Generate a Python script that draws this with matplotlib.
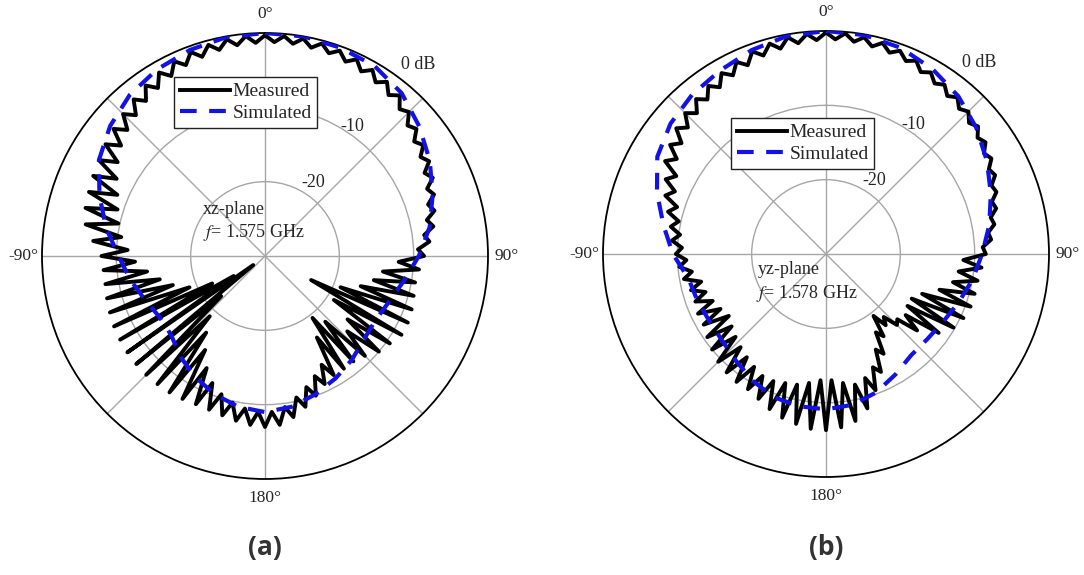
import numpy as np
import matplotlib.pyplot as plt

plt.rcParams['font.family'] = ['Liberation Serif', 'DejaVu Serif']
plt.rcParams['mathtext.fontset'] = 'stix'

# angles in degrees, clockwise from 0 (top of the plot)
theta_meas = np.arange(0, 360, 2.5)
theta_sim = np.arange(0, 360, 10)

# (a) xz-plane, f = 1.575 GHz -- measured (dB), one value every 2.5 deg
meas_a = [
    -0.3, -1.2, -0.3, -1.2, -0.3, -1.3, -0.4, -1.4, -0.6, -1.7, -0.8, -2.0,   # 0..27.5
    -1.1, -2.3, -1.4, -2.7, -1.8, -3.2, -2.6, -4.0, -3.4, -4.7, -4.0, -5.2,   # 30..57.5
    -4.5, -5.8, -5.1, -6.4, -5.8, -7.0, -6.4, -7.7, -7.0, -8.4, -7.8, -9.4,   # 60..87.5
    -8.6, -12.0, -9.2, -14.0, -9.5, -15.0, -9.3, -16.5, -9.0, -19.0, -8.8, -23.0,   # 90..117.5
    -8.8, -19.0, -9.5, -16.0, -10.0, -15.0, -11.0, -18.0, -11.5, -19.5, -11.5, -17.0,   # 120..147.5
    -11.5, -13.5, -11.0, -12.5, -10.0, -11.5, -9.0, -10.5, -8.0, -9.5, -7.2, -9.0,   # 150..177.5
    -7.0, -9.0, -7.2, -9.3, -7.5, -9.8, -7.8, -10.5, -8.0, -11.5, -8.0, -13.0,   # 180..207.5
    -7.8, -15.0, -7.6, -17.0, -7.5, -19.0, -7.4, -22.0, -7.4, -28.0, -7.4, -25.0,   # 210..237.5
    -7.5, -22.0, -7.6, -19.0, -7.8, -17.0, -8.0, -15.5, -8.2, -14.0, -8.2, -12.5,   # 240..267.5
    -8.0, -11.5, -6.8, -10.5, -5.5, -9.8, -5.0, -9.2, -4.8, -8.5, -4.5, -7.5,   # 270..297.5
    -4.2, -6.5, -3.8, -5.6, -3.4, -4.9, -3.0, -4.3, -2.5, -3.7, -2.0, -3.2,   # 300..327.5
    -1.5, -2.7, -1.1, -2.2, -0.8, -1.9, -0.6, -1.6, -0.4, -1.4, -0.3, -1.3,   # 330..357.5
]
# (a) simulated (dB), one value every 10 deg
sim_a = [
    0.0, 0.0, -0.2, -0.5, -1.4, -2.9, -4.4, -6.0, -7.5, -9.3, -11.0, -12.2,
    -12.8, -12.6, -11.8, -11.0, -10.2, -9.4, -9.0, -9.4, -10.2, -11.2, -12.3, -13.5,
    -13.6, -12.8, -11.6, -10.3, -8.3, -6.3, -4.2, -2.8, -1.7, -1.0, -0.5, -0.1,
]

# (b) yz-plane, f = 1.578 GHz -- measured (dB), one value every 2.5 deg
meas_b = [
    -0.2, -1.1, -0.2, -1.2, -0.4, -1.4, -0.6, -1.6, -0.9, -1.9, -1.3, -2.4,   # 0..27.5
    -1.8, -2.8, -2.2, -3.2, -2.5, -3.5, -2.9, -3.9, -3.3, -4.3, -3.8, -4.8,   # 30..57.5
    -4.3, -5.3, -4.9, -5.9, -5.6, -6.6, -6.3, -7.3, -7.0, -8.0, -7.7, -8.9,   # 60..87.5
    -8.5, -11.5, -9.0, -12.0, -9.3, -12.5, -9.3, -14.0, -9.3, -16.0, -9.6, -17.0,   # 90..117.5
    -10.2, -17.0, -11.5, -16.5, -14.0, -17.0, -16.5, -18.5, -17.5, -19.5, -16.5, -17.5,   # 120..147.5
    -14.5, -15.5, -12.5, -13.5, -10.5, -12.5, -8.5, -12.0, -7.2, -12.5, -6.6, -13.0,   # 150..177.5
    -6.3, -13.0, -6.4, -12.5, -6.8, -12.0, -7.2, -11.8, -7.8, -11.5, -8.5, -11.5,   # 180..207.5
    -9.0, -12.0, -9.0, -12.5, -9.2, -13.0, -9.5, -13.5, -10.0, -14.0, -10.5, -14.5,   # 210..237.5
    -11.0, -14.0, -11.0, -13.5, -11.3, -13.0, -11.2, -12.8, -10.6, -11.8, -10.2, -11.2,   # 240..267.5
    -9.8, -10.6, -9.2, -10.2, -8.8, -9.7, -8.0, -9.0, -7.0, -8.0, -6.2, -7.3,   # 270..297.5
    -5.0, -6.2, -4.4, -5.5, -3.7, -4.8, -3.2, -4.3, -2.8, -3.8, -2.4, -3.4,   # 300..327.5
    -1.9, -2.9, -1.5, -2.5, -1.0, -2.0, -0.7, -1.7, -0.4, -1.4, -0.3, -1.2,   # 330..357.5
]
# (b) simulated (dB), one value every 10 deg
sim_b = [
    0.0, -0.1, -0.5, -1.3, -2.3, -3.6, -5.0, -6.4, -7.7, -9.0, -10.0, -11.0,
    -11.8, -12.2, -12.2, -11.3, -10.2, -9.4, -9.1, -9.2, -9.5, -10.3, -11.2, -11.8,
    -11.9, -11.6, -11.2, -9.4, -7.8, -5.8, -3.8, -2.7, -2.0, -1.5, -0.8, -0.2,
]

angle_labels = ['0°', '', '90°', '', '180°', '', '-90°', '']
ring_labels = [(38.5, 3.0, '0 dB'), (34, -9.0, '-10'), (33, -18.2, '-20')]

W, H = 1084, 575
TXT = '#262626'


def closed(theta, vals):
    th = np.deg2rad(np.append(theta, 360))
    return th, np.append(vals, vals[0])


def draw_pattern(ax, meas, sim, legend_px):
    ax.set_theta_zero_location('N')
    ax.set_theta_direction(-1)
    ax.set_ylim(-30, 0)
    ax.set_yticks([-20, -10])
    ax.set_yticklabels([])
    ax.set_thetagrids(np.arange(0, 360, 45), angle_labels)
    ax.grid(color='#a6a6a6', lw=1.0)
    ax.spines['polar'].set_color('black')
    ax.spines['polar'].set_linewidth(1.3)
    ax.tick_params(axis='x', pad=3, labelsize=12.5, labelcolor=TXT)

    th, r = closed(theta_meas, meas)
    ax.plot(th, r, color='black', lw=2.8, label='Measured', zorder=3)
    th, r = closed(theta_sim, sim)
    ax.plot(th, r, color='#1212e6', lw=3, dashes=(4, 3), label='Simulated', zorder=4)

    for ang, rr, txt in ring_labels:
        ax.text(np.deg2rad(ang), rr, txt, ha='center', va='center',
                fontsize=13, color=TXT)

    leg = ax.legend(loc='upper left',
                    bbox_to_anchor=(legend_px[0] / W, 1 - legend_px[1] / H),
                    bbox_transform=fig.transFigure, borderaxespad=0,
                    fontsize=14, handlelength=2.6, handletextpad=0.1,
                    borderpad=0.3, labelspacing=0.2, fancybox=False,
                    framealpha=1, edgecolor='#222222')
    leg.get_frame().set_linewidth(1.0)
    leg.set_zorder(10)
    for t in leg.get_texts():
        t.set_color(TXT)


fig = plt.figure(figsize=(W / 100, H / 100), dpi=100)

R = 223
ax_a = fig.add_axes([(265 - R) / W, 1 - (256 + R) / H, 2 * R / W, 2 * R / H],
                    projection='polar')
ax_b = fig.add_axes([(826 - R) / W, 1 - (254 + R) / H, 2 * R / W, 2 * R / H],
                    projection='polar')

draw_pattern(ax_a, meas_a, sim_a, (174, 77))
draw_pattern(ax_b, meas_b, sim_b, (731, 118))

# plane / frequency notes
fig.text(203 / W, 1 - 209 / H, 'xz-plane', fontsize=13, color=TXT, va='center')
fig.text(203 / W, 1 - 233 / H, '$f$= 1.575 GHz', fontsize=13, color=TXT, va='center')
fig.text(758 / W, 1 - 270 / H, 'yz-plane', fontsize=13, color=TXT, va='center')
fig.text(756 / W, 1 - 293 / H, '$f$= 1.578 GHz', fontsize=13, color=TXT, va='center')

# sub-figure captions
for x, lab in [(265, '(a)'), (826, '(b)')]:
    fig.text(x / W, 1 - 548 / H, lab, ha='center', va='center', fontsize=19,
             fontweight='bold', family='Open Sans', color='#333333')

fig.savefig('out.png', dpi=100)
